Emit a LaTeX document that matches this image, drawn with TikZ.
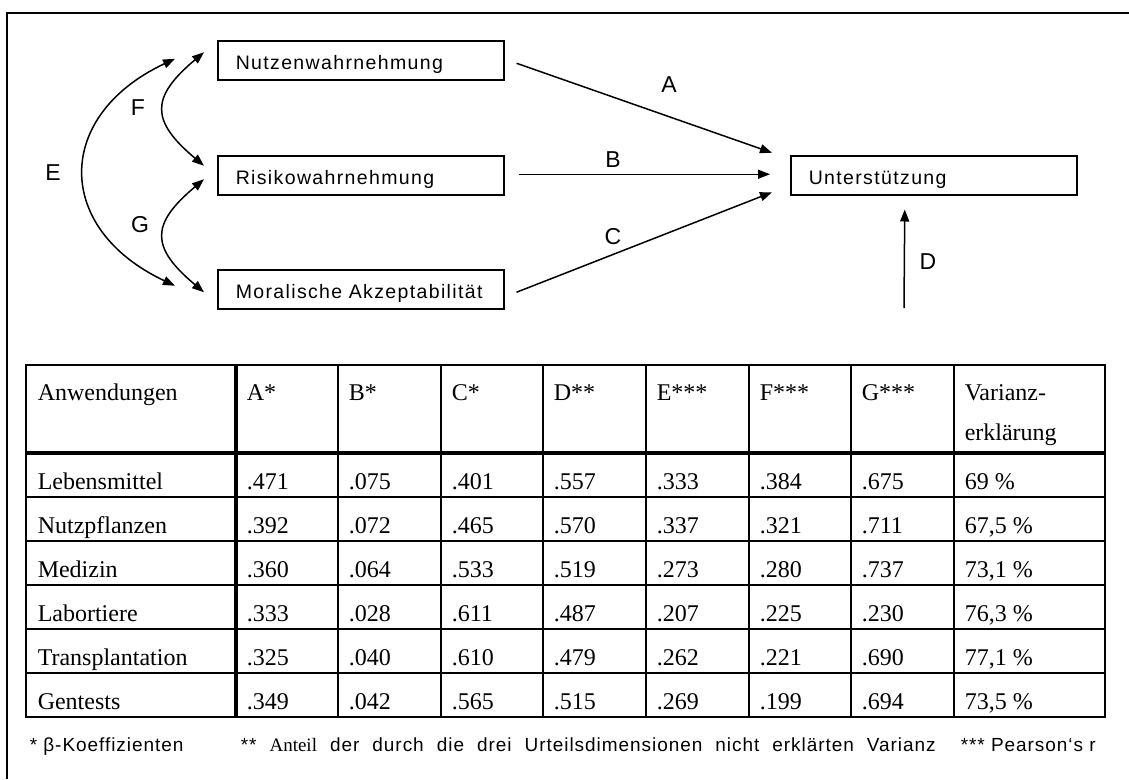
\documentclass[tikz,border=0pt]{standalone}
\usepackage{fontspec}
\setmainfont{Liberation Serif}
\newfontfamily\diagfont[LetterSpace=7]{Liberation Sans}
\newfontfamily\notefont[LetterSpace=5]{Liberation Sans}
\newfontfamily\plainsans{Liberation Sans}
\usetikzlibrary{arrows.meta,calc}
\begin{document}
\begin{tikzpicture}[x=1pt,y=-1pt,
  line width=1.5pt,
  box/.style={draw, line width=1.5pt, minimum height=39pt, text width=250pt,
    inner xsep=18pt, inner ysep=0pt, align=left, anchor=north west,
    text height=18pt, text depth=0pt,
    font=\diagfont\fontsize{19.5}{22}\selectfont},
  lbl/.style={font=\plainsans\fontsize{23}{26}\selectfont, inner sep=0pt},
  conn/.style={-{Triangle[length=12pt,width=9pt]}, line width=1.5pt},
  dconn/.style={{Triangle[length=12pt,width=9pt]}-{Triangle[length=12pt,width=9pt]}, line width=1.5pt},
  cell/.style={anchor=base west, inner sep=0pt, font=\fontsize{24}{28}\selectfont},
  fn/.style={anchor=base west, inner sep=0pt, font=\notefont\fontsize{19}{22}\selectfont},
  thinline/.style={line width=1.6pt},
  thickline/.style={line width=3.5pt},
]
\useasboundingbox (0,0) rectangle (1129,779);
% outer frame
\draw[line width=1.5pt] (7,779) -- (7,13) -- (1129,13);

% boxes
\node[box] (N) at (217,40) {Nutzenwahrnehmung};
\node[box] (R) at (217,155) {Risikowahrnehmung};
\node[box] (M) at (217,269) {Moralische Akzeptabilität};
\node[box] (U) at (790,155) {Unterstützung};

% straight arrows
\draw[conn] ($(N.east)+(12,3)$) -- ($(U.west)+(-18,-22.5)$);
\draw[conn] ($(R.east)+(14,-1)$) -- ($(U.west)+(-20,-1)$);
\draw[conn] ($(M.east)+(12,3)$) -- ($(U.west)+(-18,17)$);
\coordinate (Dstart) at (904,308);
\draw[conn] (Dstart) -- ($(U.south)+(-29,14)$);

% curved arrows
\coordinate (Et) at ($(N.west)+(-42,-1.5)$);
\coordinate (Eb) at ($(M.west)+(-42,-3.5)$);
\coordinate (Ft) at ($(N.west)+(-13,-8)$);
\coordinate (Fb) at ($(R.west)+(-13,-9.5)$);
\coordinate (Gt) at ($(R.west)+(-13,4)$);
\coordinate (Gb) at ($(M.west)+(-13,3)$);
\draw[dconn] (Et) .. controls +(-121,57) and +(-121,-57) .. (Eb);
\draw[dconn] (Ft) .. controls +(-53.6,45) and +(-53.6,-45) .. (Fb);
\draw[dconn] (Gt) .. controls +(-53.6,45) and +(-53.6,-45) .. (Gb);

% labels
\node[lbl] (lA) at (669,85) {A};
\node[lbl] (lB) at (613,160) {B};
\node[lbl] (lC) at (613,237) {C};
\node[lbl] (lD) at (928,262) {D};
\node[lbl] (lE) at (53,173) {E};
\node[lbl] (lF) at (138,108) {F};
\node[lbl] (lG) at (140,225) {G};

% table grid
\draw[thinline] (26,365) rectangle (1105,717);
\foreach \yy in {497,541,585,629,673} \draw[thinline] (26,\yy) -- (1105,\yy);
\draw[thickline] (26,453) -- (1105,453);
\draw[thickline] (236,365) -- (236,717);
\foreach \xx in {338,441,543,646,749,851,954} \draw[thinline] (\xx,365) -- (\xx,717);

% header
\node[cell] (h1) at (37,400) {Anwendungen};
\node[cell] (h2) at (246,400) {A*};
\node[cell] (h3) at (348,400) {B*};
\node[cell] (h4) at (451,400) {C*};
\node[cell] (h5) at (553,400) {D**};
\node[cell] (h6) at (656,400) {E***};
\node[cell] (h7) at (759,400) {F***};
\node[cell] (h8) at (861,400) {G***};
\node[cell] (h9) at (964,400) {Varianz-};
\node[cell] (h9b) at (964,440) {erklärung};

% data rows
\foreach \nm/\a/\b/\c/\d/\e/\f/\g/\v [count=\i] in {
  Lebensmittel/.471/.075/.401/.557/.333/.384/.675/69 \%,
  Nutzpflanzen/.392/.072/.465/.570/.337/.321/.711/{67,5 \%},
  Medizin/.360/.064/.533/.519/.273/.280/.737/{73,1 \%},
  Labortiere/.333/.028/.611/.487/.207/.225/.230/{76,3 \%},
  Transplantation/.325/.040/.610/.479/.262/.221/.690/{77,1 \%},
  Gentests/.349/.042/.565/.515/.269/.199/.694/{73,5 \%}} {
  \pgfmathsetmacro{\yb}{453+44*\i-7.5}
  \node[cell] (r\i-1) at (37,\yb) {\nm};
  \node[cell] (r\i-2) at (246,\yb) {\a};
  \node[cell] (r\i-3) at (348,\yb) {\b};
  \node[cell] (r\i-4) at (451,\yb) {\c};
  \node[cell] (r\i-5) at (553,\yb) {\d};
  \node[cell] (r\i-6) at (656,\yb) {\e};
  \node[cell] (r\i-7) at (759,\yb) {\f};
  \node[cell] (r\i-8) at (861,\yb) {\g};
  \node[cell] (r\i-9) at (964,\yb) {\v};
}

% footnote
\node[fn] (fn1) at (29,751) {* β-Koeffizienten};
\node[fn] (fn2) at (240,751) {\makebox[695pt][s]{** {\rmfamily Anteil} der durch die drei Urteilsdimensionen nicht erklärten Varianz}};
\node[fn] (fn3) at (960,751) {*** Pearson‘s r};
\end{tikzpicture}
\end{document}
